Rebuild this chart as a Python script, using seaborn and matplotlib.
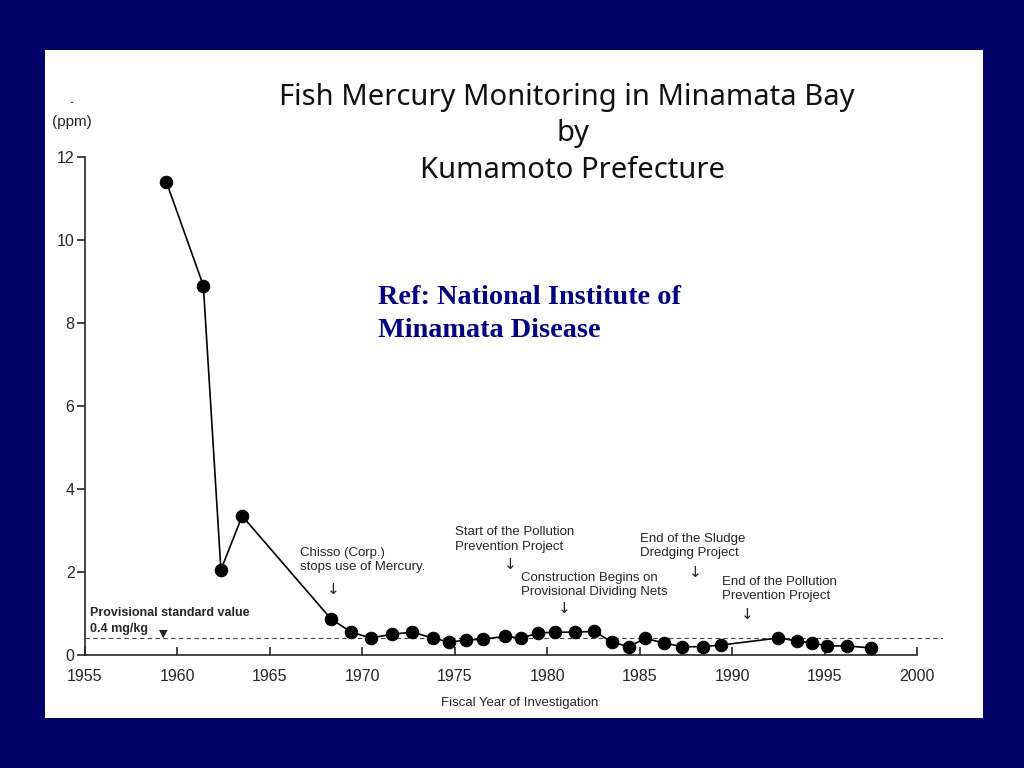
import matplotlib
matplotlib.use("Agg")
import matplotlib.pyplot as plt
import seaborn as sns
import pandas as pd
from matplotlib.patches import Rectangle

# fiscal year and mercury level in ppm
years = [1959.4, 1961.4, 1962.35, 1963.5, 1968.3, 1969.4, 1970.45, 1971.6, 1972.7,
         1973.8, 1974.7, 1975.6, 1976.55, 1977.7, 1978.6, 1979.5, 1980.4, 1981.5,
         1982.55, 1983.5, 1984.4, 1985.3, 1986.3, 1987.3, 1988.4, 1989.4, 1992.5,
         1993.5, 1994.3, 1995.15, 1996.2, 1997.5]
ppm = [11.4, 8.9, 2.05, 3.35, 0.87, 0.55, 0.41, 0.5, 0.55,
       0.41, 0.31, 0.36, 0.38, 0.45, 0.41, 0.53, 0.55, 0.55,
       0.57, 0.31, 0.2, 0.4, 0.29, 0.2, 0.2, 0.24, 0.41,
       0.34, 0.29, 0.22, 0.22, 0.17]
standard_value = 0.4

# annotations: (text, x year, y ppm of text top, arrow x year, arrow y ppm)
events = [
    ("Chisso (Corp.)\nstops use of Mercury.", 1966.6, 2.6, 1968.4, 1.57),
    ("Start of the Pollution\nPrevention Project", 1975.0, 3.1, 1978.0, 2.17),
    ("Construction Begins on\nProvisional Dividing Nets", 1978.6, 2.0, 1980.9, 1.13),
    ("End of the Sludge\nDredging Project", 1985.0, 2.95, 1988.0, 1.98),
    ("End of the Pollution\nPrevention Project", 1989.45, 1.9, 1990.8, 0.98),
]

df = pd.DataFrame({"year": years, "ppm": ppm})

sns.set_style("ticks")
plt.rcParams["font.family"] = ["Liberation Sans", "DejaVu Sans"]

fig = plt.figure(figsize=(10.24, 7.68), dpi=100)
fig.patch.set_facecolor("#000066")
fig.patches.append(Rectangle((45 / 1024, 1 - 718 / 768), 938 / 1024, 668 / 768,
                             transform=fig.transFigure, facecolor="white",
                             edgecolor="none", zorder=-5))

ax = fig.add_axes([85 / 1024, 1 - 655 / 768, 858 / 1024, 498 / 768])
ax.set_facecolor("none")
ax.set_zorder(2)

sns.lineplot(data=df, x="year", y="ppm", ax=ax, color="black", linewidth=1.2,
             marker="o", markersize=9, markeredgecolor="black", sort=False, zorder=3)
ax.axhline(standard_value, color="#444444", linewidth=0.8, linestyle=(0, (4, 3)), zorder=2)

ax.set_xlim(1955, 2001.4)
ax.set_ylim(0, 12)
ax.set_xticks(range(1955, 2001, 5))
ax.set_yticks(range(0, 13, 2))
ax.spines["top"].set_visible(False)
ax.spines["right"].set_visible(False)
ax.spines["bottom"].set_bounds(1955, 2000)
ax.spines["left"].set_linewidth(1.2)
ax.spines["bottom"].set_linewidth(1.2)
ax.tick_params(axis="x", direction="in", length=6, width=1.2, labelsize=11.5, pad=10)
ax.tick_params(axis="y", direction="out", length=6, width=1.2, labelsize=11.5, pad=1.5)
ax.set_xlabel("Fiscal Year of Investigation", fontsize=9.5, labelpad=10)
ax.xaxis.set_label_coords(0.507, -0.085)
ax.set_ylabel("")

narrow = ["Liberation Sans Narrow", "Liberation Sans", "DejaVu Sans"]
for text, tx, ty, axx, ayy in events:
    ax.text(tx, ty, text, fontsize=9.5, va="top", ha="left", family=narrow,
            linespacing=1.25)
    ax.text(axx, ayy, "\u2193", fontsize=11, ha="center", va="center",
            family=["DejaVu Sans"])

ax.text(1955.25, 1.0, "Provisional standard value", fontsize=9,
        fontweight="bold", va="center", ha="left")
ax.text(1955.25, 0.63, "0.4 mg/kg", fontsize=9,
        fontweight="bold", va="center", ha="left")
ax.text(1959.25, 0.52, "\u25bc", fontsize=8, ha="center", va="center",
        family=["DejaVu Sans"])

fig.text(71 / 1024, 1 - 103 / 768, "-", fontsize=9, ha="center", va="center")
fig.text(72 / 1024, 1 - 122 / 768, "(ppm)", fontsize=11, ha="center", va="center")

title_font = ["Noto Sans", "DejaVu Sans"]
fig.text(567 / 1024, 1 - 97 / 768, "Fish Mercury Monitoring in Minamata Bay",
         fontsize=21, ha="center", va="center", family=title_font, color="#111111")
fig.text(573 / 1024, 1 - 133 / 768, "by", fontsize=21, ha="center", va="center",
         family=title_font, color="#111111")
fig.text(573 / 1024, 1 - 171 / 768, "Kumamoto Prefecture", fontsize=21,
         ha="center", va="center", family=title_font, color="#111111")

fig.text(378 / 1024, 1 - 285 / 768, "Ref: National Institute of\nMinamata Disease",
         fontsize=20.3, fontweight="bold", color="#000080", ha="left", va="top",
         family=["Liberation Serif", "DejaVu Serif"], linespacing=1.42)

fig.savefig("out.png", dpi=100, facecolor=fig.get_facecolor())
